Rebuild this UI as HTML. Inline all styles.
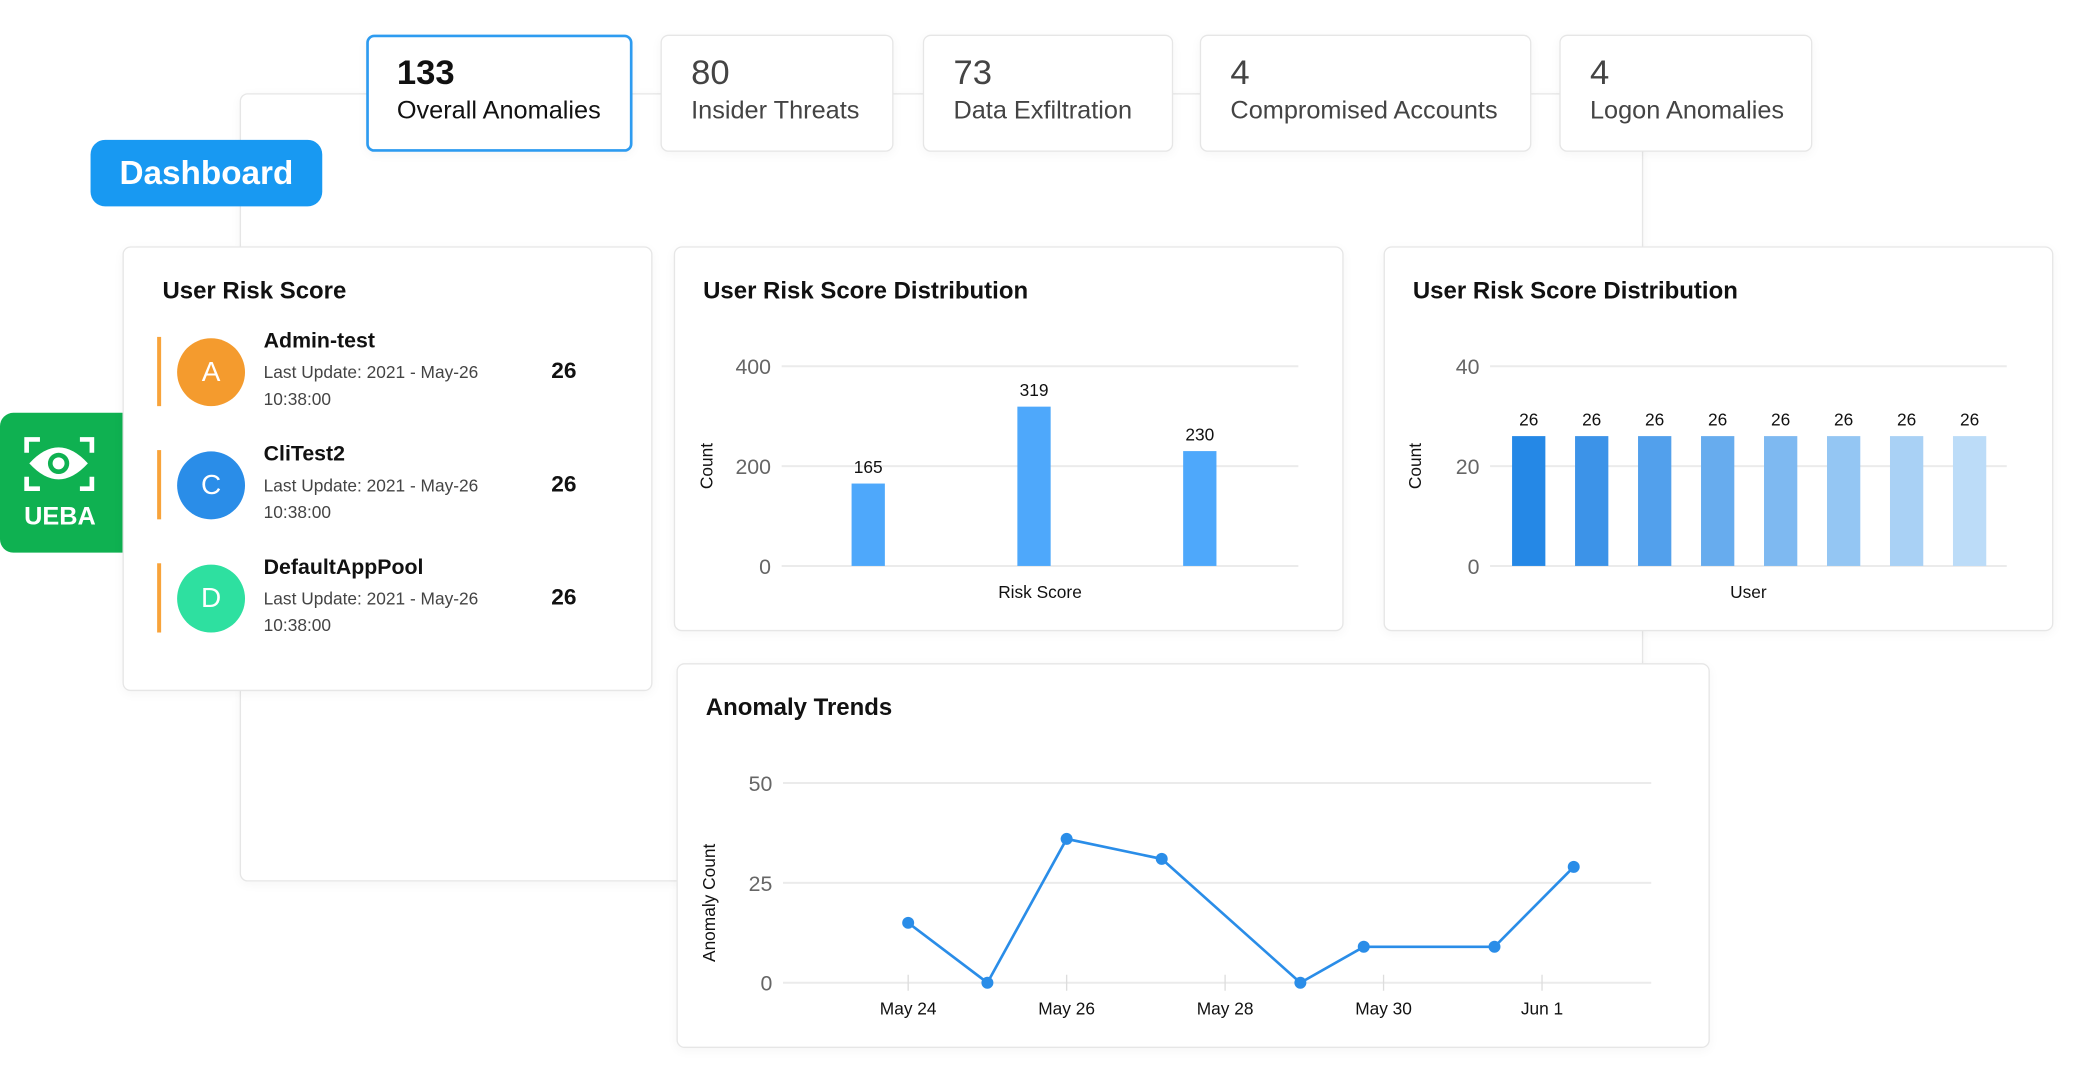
<!DOCTYPE html>
<html><head><meta charset="utf-8"><style>
html,body{margin:0;padding:0;background:#fff;}
body{width:2088px;height:1082px;overflow:hidden;font-family:"Liberation Sans",sans-serif;}
#root{position:absolute;left:0;top:0;width:1568px;height:813px;transform:scale(1.33163);transform-origin:0 0;}
.card{position:absolute;background:#fff;border:1px solid #e6e6e6;border-radius:6px;box-shadow:0 2px 8px rgba(0,0,0,0.04);box-sizing:border-box;}
.stat .n{position:absolute;left:22px;top:12px;font-size:26px;color:#444;}
.stat .l{position:absolute;left:22px;top:46px;font-size:19px;color:#444;white-space:nowrap;}
.title{position:absolute;font-size:18px;font-weight:bold;color:#111;}
.user{position:absolute;left:25px;width:330px;height:60px;}
.user .bar{position:absolute;left:0;top:0;width:3px;height:52px;background:#f8a33a;}
.user .av{position:absolute;left:15px;top:1px;width:51px;height:51px;border-radius:50%;color:#fff;font-size:21px;text-align:center;line-height:51px;}
.user .nm{position:absolute;left:80px;top:-5px;font-size:16px;font-weight:bold;color:#111;}
.user .up{position:absolute;left:80px;top:17px;font-size:13px;color:#444;line-height:20px;}
.user .sc{position:absolute;left:296px;top:16px;font-size:17px;font-weight:bold;color:#111;}
svg text{font-family:"Liberation Sans",sans-serif;}
</style></head><body>
<div id="root">
<div class="card" style="left:180px;top:70px;width:1054px;height:592px;"></div>

<div class="card stat" style="left:275px;top:26px;width:200px;height:88px;border:2px solid #2d9bf0;"><div class="n" style="color:#111;font-weight:bold;left:21px;top:11px">133</div><div class="l" style="color:#111;left:21px;top:45px">Overall Anomalies</div></div>
<div class="card stat" style="left:496px;top:26px;width:175px;height:88px;"><div class="n">80</div><div class="l">Insider Threats</div></div>
<div class="card stat" style="left:693px;top:26px;width:188px;height:88px;"><div class="n">73</div><div class="l">Data Exfiltration</div></div>
<div class="card stat" style="left:901px;top:26px;width:249px;height:88px;"><div class="n">4</div><div class="l">Compromised Accounts</div></div>
<div class="card stat" style="left:1171px;top:26px;width:190px;height:88px;"><div class="n">4</div><div class="l">Logon Anomalies</div></div>

<div style="position:absolute;left:68px;top:105px;width:174px;height:50px;background:#1899f2;border-radius:11px;color:#fff;font-size:25px;font-weight:bold;text-align:center;line-height:50px;">Dashboard</div>

<div style="position:absolute;left:0;top:310px;width:92px;height:105px;background:#0fb151;border-radius:10px 0 0 10px;">
<svg width="92" height="70"><g stroke="#fff" stroke-width="3.5" fill="none"><path d="M20 30v-10h10M60 20h9v10M20 48v9h10M60 57h9v-9"/></g><path d="M22 38q22-24 44 0q-22 24-44 0z" fill="#fff"/><circle cx="44" cy="38" r="8" fill="#0fb151"/><circle cx="44" cy="38" r="4.5" fill="#fff"/></svg>
<div style="position:absolute;left:0;width:90px;top:68px;text-align:center;color:#fff;font-size:19px;font-weight:bold;">UEBA</div></div>

<div class="card" style="left:92px;top:185px;width:398px;height:334px;">
<div class="title" style="left:29px;top:22px">User Risk Score</div>
<div class="user" style="top:67px"><div class="bar"></div><div class="av" style="background:#f49b2e">A</div><div class="nm">Admin-test</div><div class="up">Last Update: 2021 - May-26<br>10:38:00</div><div class="sc">26</div></div>
<div class="user" style="top:152px"><div class="bar"></div><div class="av" style="background:#2a8de8">C</div><div class="nm">CliTest2</div><div class="up">Last Update: 2021 - May-26<br>10:38:00</div><div class="sc">26</div></div>
<div class="user" style="top:237px"><div class="bar"></div><div class="av" style="background:#2ee0a0">D</div><div class="nm">DefaultAppPool</div><div class="up">Last Update: 2021 - May-26<br>10:38:00</div><div class="sc">26</div></div>
</div>

<div class="card" style="left:506px;top:185px;width:503px;height:289px;">
<div class="title" style="left:21px;top:22px">User Risk Score Distribution</div></div>
<div class="card" style="left:1039px;top:185px;width:503px;height:289px;">
<div class="title" style="left:21px;top:22px">User Risk Score Distribution</div></div>
<div class="card" style="left:508px;top:498px;width:776px;height:289px;">
<div class="title" style="left:21px;top:22px">Anomaly Trends</div></div>

<svg id="charts" width="1568" height="813" style="position:absolute;left:0;top:0"></svg>
</div>
<script>
const c1Cats=["Low","Medium","High"];
const c1Vals=[165,319,230];
const c1Ticks=[0,200,400];
const c2Cats=["U1","U2","U3","U4","U5","U6","U7","U8"];
const c2Vals=[26,26,26,26,26,26,26,26];
const c2Ticks=[0,20,40];
const c3Days=[0,1,2,3.2,4.95,5.75,7.4,8.4];
const c3Vals=[15,0,36,31,0,9,9,29];
const c3Ticks=[0,25,50];
const c3TickDays=[0,2,4,6,8];
const c3TickLabels=["May 24","May 26","May 28","May 30","Jun 1"];
const c2Colors=["#2588e6","#3c93e8","#52a0ec","#67acee","#7eb9f1","#94c6f3","#a9d1f5","#bcdcf8"];

const NS="http://www.w3.org/2000/svg";
const svg=document.getElementById('charts');
function mk(t,a,txt){const e=document.createElementNS(NS,t);for(const k in a)e.setAttribute(k,a[k]);if(txt!==undefined)e.textContent=txt;svg.appendChild(e);return e;}

function barChart(cats,vals,ticks,x0,x1,yTop,yBot,centers0,step,bw,colors,xTitle,ytx,prefix){
  const max=ticks[ticks.length-1];
  const y=v=>yBot-(v/max)*(yBot-yTop);
  ticks.forEach(t=>{
    const g=mk('line',{x1:x0,x2:x1,y1:y(t),y2:y(t),stroke:'#ebebeb','stroke-width':1.5});
    
    
    const l=mk('text',{x:x0-8,y:y(t)+6,'text-anchor':'end','font-size':16,fill:'#666'},t);
    
    
  });
  cats.forEach((c,i)=>{
    const cx=centers0+i*step;
    const r=mk('rect',{x:cx-bw/2,y:y(vals[i]),width:bw,height:yBot-y(vals[i]),fill:colors[i%colors.length]});
    
    
    const t=mk('text',{x:cx,y:y(vals[i])-8,'text-anchor':'middle','font-size':13,fill:'#111'},vals[i]);
    
    
  });
  const xt=mk('text',{x:(x0+x1)/2,y:yBot+24,'text-anchor':'middle','font-size':13,fill:'#111'},xTitle);
  
  
  const yt=mk('text',{x:0,y:0,transform:`translate(${ytx},${(yTop+yBot)/2}) rotate(-90)`,'text-anchor':'middle','font-size':13,fill:'#111'},'Count');
  
  
}
barChart(c1Cats,c1Vals,c1Ticks,587,975,275,425,652,124.5,25,["#4ea8fb"],"Risk Score",535,'risk');
barChart(c2Cats,c2Vals,c2Ticks,1119,1507,275,425,1148,47.3,25,c2Colors,"User",1067,'user');

// line chart
(function(){
  const x0=588,x1=1240,yTop=588,yBot=738,max=c3Ticks[c3Ticks.length-1];
  const y=v=>yBot-(v/max)*(yBot-yTop);
  const x=d=>682+d*59.5;
  c3Ticks.forEach(t=>{
    const g=mk('line',{x1:x0,x2:x1,y1:y(t),y2:y(t),stroke:'#ebebeb','stroke-width':1.5});
    
    
    const l=mk('text',{x:x0-8,y:y(t)+6,'text-anchor':'end','font-size':16,fill:'#666'},t);
    
    
  });
  c3TickDays.forEach((d,i)=>{
    const tk=mk('line',{x1:x(d),x2:x(d),y1:yBot-6,y2:yBot+6,stroke:'#ddd','stroke-width':1});
    
    
    const l=mk('text',{x:x(d),y:yBot+24,'text-anchor':'middle','font-size':13,fill:'#111'},c3TickLabels[i]);
    
    
  });
  const pts=c3Days.map((d,i)=>x(d)+','+y(c3Vals[i])).join(' ');
  const pl=mk('polyline',{points:pts,fill:'none',stroke:'#2a8de8','stroke-width':2});
  
  
  c3Days.forEach((d,i)=>{
    const p=mk('circle',{cx:x(d),cy:y(c3Vals[i]),r:4.5,fill:'#2a8de8'});
    
    
  });
  const yt=mk('text',{x:0,y:0,transform:`translate(537,${(yTop+yBot)/2+15}) rotate(-90)`,'text-anchor':'middle','font-size':13,fill:'#111'},'Anomaly Count');
  
  
})();
</script>
</body></html>
